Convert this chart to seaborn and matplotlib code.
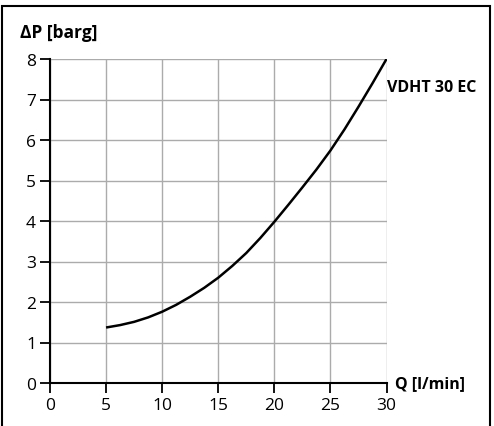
import matplotlib
matplotlib.use("Agg")
import matplotlib.pyplot as plt
from matplotlib.patches import Rectangle
import seaborn as sns
import pandas as pd

# Flow rate vs. pressure drop for the VDHT 30 EC
flow_lpm = [5, 6.25, 7.5, 8.75, 10, 11.25, 12.5, 13.75, 15, 16.25, 17.5,
            18.75, 20, 21.25, 22.5, 23.75, 25, 26.25, 27.5, 28.75, 30]
dp_barg = [1.37, 1.43, 1.51, 1.62, 1.76, 1.93, 2.13, 2.35, 2.60, 2.89, 3.21,
           3.58, 3.98, 4.40, 4.83, 5.27, 5.74, 6.26, 6.82, 7.40, 8.0]
x_ticks = [0, 5, 10, 15, 20, 25, 30]
y_ticks = [0, 1, 2, 3, 4, 5, 6, 7, 8]
series_name = "VDHT 30 EC"

df = pd.DataFrame({"Q": flow_lpm, "dP": dp_barg})

sns.set_theme(style="white")
plt.rcParams["font.family"] = ["Open Sans", "DejaVu Sans"]

W, H = 494, 427
fig = plt.figure(figsize=(W / 100, H / 100), dpi=100)
ax = fig.add_axes([50 / W, 1 - 384 / H, (386.5 - 50) / W, (384 - 60) / H])

sns.lineplot(data=df, x="Q", y="dP", ax=ax, color="black", linewidth=1.8,
             estimator=None, sort=True, solid_joinstyle="round",
             solid_capstyle="butt")

ax.set_xlim(0, 30)
ax.set_ylim(0, 8)
ax.set_xticks(x_ticks)
ax.set_yticks(y_ticks)
ax.set_xticklabels([str(t) for t in x_ticks], fontsize=12.5)
ax.set_yticklabels([str(t) for t in y_ticks], fontsize=12.5)
ax.set_xlabel("")
ax.set_ylabel("")

ax.grid(True, color="#ababab", linewidth=1.0)
ax.set_axisbelow(True)
for s in ("top", "right"):
    ax.spines[s].set_visible(False)
for s in ("left", "bottom"):
    ax.spines[s].set_color("black")
    ax.spines[s].set_linewidth(1.5)
ax.tick_params(axis="both", direction="out", length=7, width=1.3, color="black",
               labelcolor="black", pad=3, left=True, bottom=True)

ax.text(-0.089, 1.055, "ΔP [barg]", transform=ax.transAxes, fontsize=12.5,
        fontweight="bold", ha="left", va="bottom", color="black")
ax.text(1.025, 0.0, "Q [l/min]", transform=ax.transAxes, fontsize=11.5,
        fontweight="bold", ha="left", va="center", color="black")
ax.text(1.0, 0.915, series_name, transform=ax.transAxes, fontsize=11.5,
        fontweight="bold", ha="left", va="center", color="black")

# Outer frame
fig.patches.append(Rectangle((1.5 / W, -0.05), (490 - 1.5) / W, 1.05 - 7 / H,
                             transform=fig.transFigure, fill=False,
                             edgecolor="black", linewidth=1.5))

fig.savefig("out.png", dpi=100)
